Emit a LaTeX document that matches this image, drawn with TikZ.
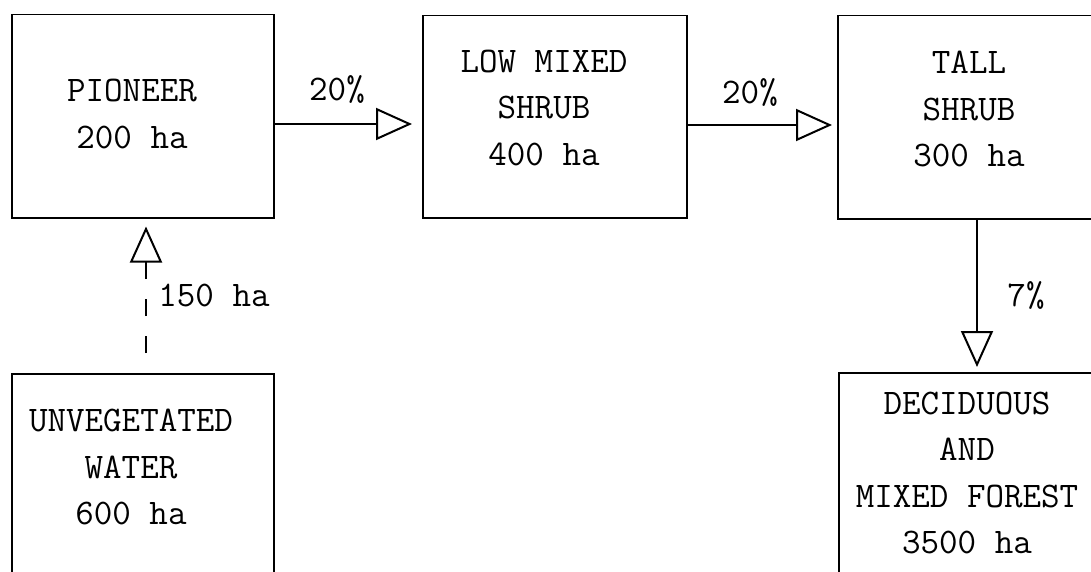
\documentclass[tikz,border=0pt]{standalone}
\usetikzlibrary{arrows.meta}
\begin{document}
\begin{tikzpicture}[x=1pt,y=-1pt,
  box/.style={draw, line width=1.5pt, anchor=north west, inner sep=0pt},
  txt/.style={align=center, font=\ttfamily\fontsize{36}{46.5}\selectfont, inner sep=0pt},
  lbl/.style={font=\ttfamily\fontsize{36}{40}\selectfont, inner sep=0pt},
  flow/.style={line width=1.5pt, -{Triangle[open, length=36pt, width=32pt, line width=2pt]}},
  dashflow/.style={flow, dash pattern=on 17pt off 20pt, dash phase=17pt}]
\useasboundingbox (0,0) rectangle (1091,572);
\clip (0,0) rectangle (1091,572);
% boxes
\node[box, minimum width=262pt, minimum height=203pt] (pioneer) at (11,14) {};
\node[box, minimum width=264pt, minimum height=202pt] (low) at (422,15) {};
\node[box, minimum width=274pt, minimum height=203pt] (tall) at (837,15) {};
\node[box, minimum width=262pt, minimum height=230pt] (unveg) at (11,373) {};
\node[box, minimum width=270pt, minimum height=230pt] (dec) at (838,372) {};
% texts
\node[txt] (pioneerT) at (132,114) {PIONEER\\200 ha};
\node[txt] (lowT) at (544,108) {LOW MIXED\\SHRUB\\400 ha};
\node[txt] (tallT) at (969,109) {TALL\\SHRUB\\300 ha};
\node[txt] (unvegT) at (131,467) {UNVEGETATED\\WATER\\600 ha};
\node[txt] (decT) at (967,473) {DECIDUOUS\\AND\\MIXED FOREST\\3500 ha};
% connectors
\draw[flow, shorten >=10pt] (pioneer.east |- 0,124) -- (low.west |- 0,124);
\draw[flow, shorten >=5pt] (low.east |- 0,125) -- (tall.west |- 0,125);
\draw[flow, shorten >=5pt] (tall.south -| 977,0) -- (dec.north -| 977,0);
\draw[dashflow, shorten >=8pt] (unveg.north -| 146,0) -- (pioneer.south -| 146,0);
% labels
\node[lbl] (l1) at (337,90) {20\%};
\node[lbl] (l2) at (750,93) {20\%};
\node[lbl] (l3) at (214,295) {150 ha};
\node[lbl] (l4) at (1026,295) {7\%};
\end{tikzpicture}
\end{document}
